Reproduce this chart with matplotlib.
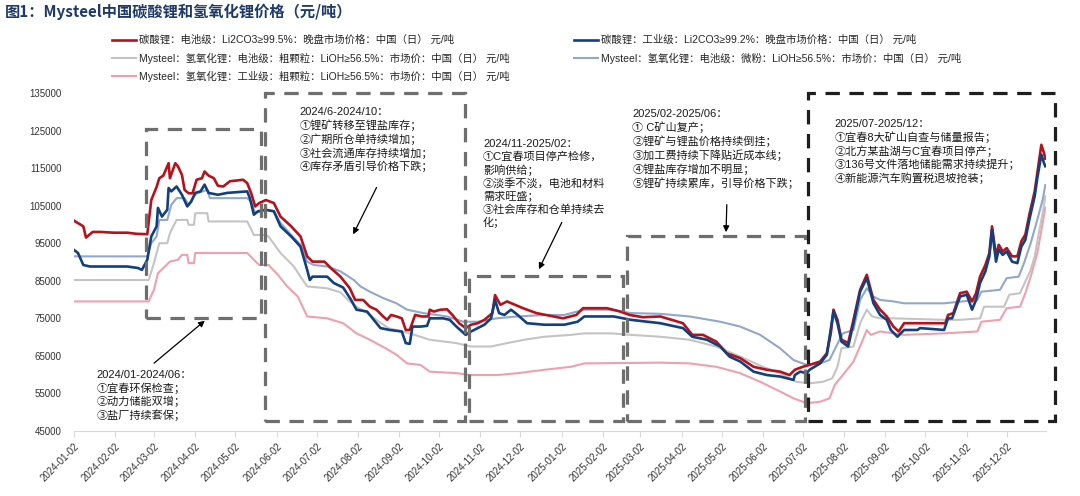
import numpy as np
import pandas as pd
import matplotlib
matplotlib.use('Agg')
import matplotlib.pyplot as plt
import matplotlib.dates as mdates
from matplotlib.lines import Line2D
from matplotlib.patches import Rectangle

plt.rcParams['font.family'] = ['Liberation Sans', 'Noto Sans CJK SC', 'DejaVu Sans']

START = pd.Timestamp('2024-01-02')

# days since 2024-01-02 / price (yuan per tonne)
lc_bat_days = [0, 7, 9, 14, 20, 30, 40, 47, 55, 58, 62, 64, 67, 71, 72, 76, 78, 81, 83, 86, 89, 92, 96, 98,
               101, 105, 108, 112, 117, 127, 130, 133, 136, 139, 144, 150, 155, 163, 170, 175, 179, 188,
               193, 200, 207, 211, 217, 222, 227, 232, 235, 238, 242, 246, 249, 252, 256, 261, 266, 267,
               270, 275, 280, 284, 289, 294, 298, 303, 308, 314, 316, 318, 320, 325, 331, 337, 347, 357,
               367, 377, 382, 400, 410, 417, 427, 440, 457, 464, 472, 482, 490, 500, 510, 520, 530, 537,
               541, 547, 552, 560, 565, 568, 570, 573, 576, 579, 581, 585, 590, 595, 600, 605, 610, 615,
               619, 623, 635, 654, 656, 660, 665, 670, 674, 677, 680, 684, 687, 689, 692, 694, 697, 700,
               704, 708, 711, 714, 717, 721, 723, 726, 728, 729]
lc_bat_vals = [101000, 99500, 96500, 98000, 98000, 97800, 97800, 97500, 97400, 106500, 110000, 112300,
               113000, 116300, 112300, 116300, 115500, 113200, 109200, 108300, 108300, 111900, 112300,
               114100, 113000, 112300, 110300, 110100, 111500, 111900, 111000, 108300, 104800, 105700,
               106500, 105700, 102100, 99500, 96800, 91500, 90100, 90100, 88300, 86100, 83000, 79900,
               79900, 78100, 77300, 75500, 74600, 75900, 75500, 75000, 71900, 71900, 75900, 75500, 75500,
               77300, 76800, 77300, 77400, 75900, 73700, 72400, 73300, 73700, 74600, 76400, 81200, 79900,
               78600, 79500, 78600, 77700, 76400, 75700, 75000, 75900, 77700, 77700, 76800, 75900, 75300,
               75500, 73700, 70600, 70600, 68800, 65700, 64400, 62100, 61300, 60800, 59900, 61300, 62100,
               62600, 63500, 65700, 71000, 77300, 74600, 69300, 68800, 68400, 74600, 82600, 86600, 79900,
               77300, 75500, 72800, 71500, 73700, 73700, 73700, 75900, 76400, 81700, 82100, 79500, 81700,
               86100, 89200, 92400, 99500, 91500, 94600, 92800, 93700, 91500, 91500, 95500, 97300, 102600,
               108800, 113700, 121200, 119000, 117500]

lc_ind_days = [0, 3, 7, 12, 22, 40, 48, 51, 55, 58, 62, 63, 66, 70, 71, 73, 77, 81, 85, 88, 91, 95, 98,
               101, 108, 115, 130, 132, 135, 138, 144, 150, 155, 163, 170, 175, 177, 179, 190, 195, 202,
               208, 212, 220, 225, 230, 237, 246, 249, 252, 254, 260, 265, 267, 277, 282, 287, 294, 298,
               303, 308, 313, 316, 319, 323, 328, 333, 340, 353, 368, 378, 383, 405, 418, 440, 457, 464,
               475, 485, 492, 500, 510, 520, 530, 540, 541, 545, 550, 552, 560, 565, 570, 573, 576, 581,
               585, 590, 595, 600, 605, 610, 613, 618, 623, 633, 635, 653, 656, 659, 665, 670, 674, 677,
               680, 684, 687, 689, 692, 694, 697, 700, 704, 708, 711, 714, 717, 721, 723, 726, 728, 729]
lc_ind_vals = [93200, 92400, 89200, 88800, 88800, 88800, 88400, 87900, 90600, 96800, 99500, 104400,
               102100, 103900, 109700, 108800, 110100, 107900, 104800, 106100, 108400, 108800, 110600,
               108400, 107900, 108400, 108800, 107000, 102600, 103500, 103900, 103500, 99500, 96800,
               94100, 87900, 85200, 86100, 86100, 84400, 83200, 79900, 77300, 76800, 74600, 72400, 71900,
               71500, 68400, 68200, 72800, 72800, 73000, 75000, 75000, 74600, 72800, 70600, 71500, 72400,
               73300, 75000, 79900, 76400, 75900, 77300, 75900, 73700, 73300, 73300, 74100, 75500, 75500,
               74600, 73700, 72400, 70100, 69300, 67500, 64800, 63500, 60800, 59900, 59500, 58600, 59900,
               60800, 60400, 61300, 63000, 65300, 76800, 73700, 68800, 67500, 73700, 82100, 85700, 79000,
               75900, 74600, 71900, 70100, 71900, 71900, 72400, 71900, 75000, 75000, 80800, 81300, 77300,
               79900, 84400, 87500, 91500, 98600, 90100, 93300, 91900, 92800, 90100, 89700, 94100, 95900,
               101300, 107500, 112400, 118600, 116300, 115500]

lioh_bat_days = [0, 56, 60, 64, 70, 72, 77, 85, 86, 90, 91, 100, 101, 130, 135, 143, 146, 155, 165, 170,
                 175, 190, 200, 207, 212, 220, 227, 236, 252, 267, 287, 298, 313, 325, 338, 353, 373, 383,
                 403, 418, 440, 462, 482, 500, 517, 530, 542, 552, 562, 569, 573, 576, 585, 590, 595, 599,
                 605, 615, 653, 665, 680, 683, 698, 702, 710, 714, 718, 721, 724, 727, 729]
lioh_bat_vals = [85200, 85200, 89700, 95000, 95000, 97700, 101200, 101200, 99900, 99900, 103000, 103000,
                 100800, 100800, 97200, 97200, 96800, 92400, 88800, 86100, 83500, 83000, 81900, 79500,
                 78100, 76400, 74600, 72400, 71000, 69300, 68400, 67500, 67500, 68400, 69300, 70100, 70600,
                 71000, 71000, 70600, 70100, 69300, 67500, 64800, 62100, 60400, 58100, 57700, 58100, 59000,
                 62100, 67000, 67500, 73700, 77300, 75500, 75000, 75000, 74600, 74600, 75000, 78100, 78100,
                 81300, 81700, 84800, 87900, 91500, 97500, 103000, 107500]

lioh_fine_days = [0, 55, 58, 62, 64, 70, 73, 77, 83, 86, 89, 92, 100, 102, 130, 133, 136, 143, 150, 155,
                  163, 170, 175, 180, 190, 200, 210, 215, 222, 232, 242, 250, 262, 280, 292, 303, 317, 333,
                  353, 368, 383, 403, 418, 440, 462, 485, 500, 515, 530, 540, 550, 560, 567, 572, 577, 585,
                  590, 595, 600, 605, 615, 623, 653, 678, 681, 695, 700, 709, 713, 718, 723, 727, 729]
lioh_fine_vals = [91500, 91500, 95000, 96800, 101200, 101200, 105200, 107000, 107000, 105200, 107000,
                  108300, 109200, 107000, 107000, 106100, 103000, 103900, 103500, 100400, 97200, 94600,
                  90100, 89200, 88800, 87500, 85200, 83500, 82100, 80400, 79000, 77300, 76400, 75500, 74100,
                  74100, 75000, 75500, 75900, 75900, 77300, 77300, 76400, 76200, 75500, 74100, 72800, 70600,
                  67000, 63900, 62600, 63000, 63900, 67500, 71000, 71900, 79900, 83000, 80800, 79900, 79500,
                  79000, 79000, 79900, 82100, 82600, 85700, 86100, 89700, 95000, 101300, 106600, 110500]

lioh_ind_days = [0, 56, 60, 63, 72, 78, 81, 85, 86, 90, 91, 130, 135, 139, 146, 153, 160, 168, 175, 190,
                 202, 212, 222, 234, 242, 250, 260, 267, 287, 298, 318, 333, 353, 373, 383, 440, 462, 482,
                 500, 515, 530, 540, 550, 560, 567, 571, 577, 585, 591, 595, 598, 605, 623, 653, 678, 681,
                 695, 700, 710, 714, 718, 723, 727, 729]
lioh_ind_vals = [79500, 79500, 82600, 87000, 90100, 90600, 91900, 91900, 89700, 89700, 92400, 92400,
                 90600, 89200, 89200, 86600, 83500, 80800, 75500, 75000, 73700, 71000, 69300, 67000, 65300,
                 63000, 62600, 60800, 60400, 59900, 59900, 60400, 61300, 62100, 63000, 63200, 63000, 62100,
                 60400, 58100, 55500, 53700, 52400, 52800, 53700, 57300, 59900, 63500, 68400, 71900, 70600,
                 71500, 70600, 71000, 71500, 74100, 74600, 77700, 78100, 81700, 86100, 92400, 100400, 104500]

labels = [
    '碳酸锂：电池级：Li2CO3≥99.5%：晚盘市场价格：中国（日） 元/吨',
    'Mysteel：氢氧化锂：电池级：粗颗粒：LiOH≥56.5%：市场价：中国（日） 元/吨',
    'Mysteel：氢氧化锂：工业级：粗颗粒：LiOH≥56.5%：市场价：中国（日） 元/吨',
    '碳酸锂：工业级：Li2CO3≥99.2%：晚盘市场价格：中国（日） 元/吨',
    'Mysteel：氢氧化锂：电池级：微粉：LiOH≥56.5%：市场价：中国（日） 元/吨',
]

notes = [
    '2024/01-2024/06：\n①宜春环保检查；\n②动力储能双增；\n③盐厂持续套保；',
    '2024/6-2024/10：\n①锂矿转移至锂盐库存；\n②广期所仓单持续增加；\n③社会流通库存持续增加；\n④库存矛盾引导价格下跌；',
    '2024/11-2025/02：\n①C宜春项目停产检修，\n影响供给；\n②淡季不淡，电池和材料\n需求旺盛；\n③社会库存和仓单持续去\n化；',
    '2025/02-2025/06：\n① C矿山复产；\n②锂矿与锂盐价格持续倒挂；\n③加工费持续下降贴近成本线；\n④锂盐库存增加不明显；\n⑤锂矿持续累库，引导价格下跌；',
    '2025/07-2025/12：\n①宜春8大矿山自查与储量报告；\n②北方某盐湖与C宜春项目停产；\n③136号文件落地储能需求持续提升；\n④新能源汽车购置税退坡抢装；',
]

RED = '#b5121b'
NAVY = '#123f7e'
GRAY = '#c4c4c4'
LBLUE = '#91a7cc'
PINK = '#f0a0ac'


def to_dates(days):
    return START + pd.to_timedelta(np.array(days, dtype=float), unit='D')


def dnum(day):
    return mdates.date2num(START + pd.Timedelta(days=day))


fig = plt.figure(figsize=(10.8, 4.96), dpi=100)
ax = fig.add_axes([74 / 1080, 65 / 496, 972 / 1080, 338 / 496])

# draw order: light ones under the dark ones
ax.plot(to_dates(lioh_ind_days), lioh_ind_vals, color=PINK, lw=1.5)
ax.plot(to_dates(lioh_bat_days), lioh_bat_vals, color=GRAY, lw=1.5)
ax.plot(to_dates(lioh_fine_days), lioh_fine_vals, color=LBLUE, lw=1.5)
ax.plot(to_dates(lc_bat_days), lc_bat_vals, color=RED, lw=1.9)
ax.plot(to_dates(lc_ind_days), lc_ind_vals, color=NAVY, lw=1.9)

ax.set_ylim(45000, 135000)
ax.set_yticks(np.arange(45000, 135001, 10000))
ax.set_xlim(dnum(0), dnum(729.5))
ticks = pd.date_range('2024-01-01', '2025-12-01', freq='MS') + pd.Timedelta(days=1)
ax.set_xticks(ticks)
ax.xaxis.set_major_formatter(mdates.DateFormatter('%Y-%m-%d'))
for s in ['top', 'right', 'left']:
    ax.spines[s].set_visible(False)
ax.spines['bottom'].set_color('#d9d9d9')
ax.tick_params(axis='x', colors='#d9d9d9', length=4, labelcolor='#333333', labelsize=7)
ax.tick_params(axis='y', length=0, labelcolor='#333333', labelsize=7, pad=9)
plt.setp(ax.get_xticklabels(), rotation=45, ha='right', rotation_mode='anchor')

# dashed period boxes
boxes = [(54, 140, 75100, 125500, '#6e6e6e'),
         (143, 293.5, 47700, 135000, '#6e6e6e'),
         (296.5, 412, 47700, 86300, '#6e6e6e'),
         (415, 548.6, 47700, 97000, '#6e6e6e'),
         (551, 736, 47700, 135100, '#1e1e1e')]
for d0, d1, v0, v1, c in boxes:
    ax.add_patch(Rectangle((dnum(d0), v0), dnum(d1) - dnum(d0), v1 - v0, fill=False,
                           ec=c, lw=2.3, ls=(0, (4.5, 3)), clip_on=False, zorder=5))

# notes and arrows
note_pos = [(17, 61300), (169, 131300), (307, 122800), (419, 130800), (571, 128200)]
for (d, v), s in zip(note_pos, notes):
    ax.text(dnum(d), v, s, fontsize=8, va='top', ha='left', color='#1a1a1a', linespacing=1.25)

arrows = [((58.5, 62600), (99.8, 74850)),
          ((228, 110500), (208.6, 96700)),
          ((367, 101200), (348, 87400)),
          ((490, 106000), (489.3, 97200))]
for (td, tv), (hd, hv) in arrows:
    ax.annotate('', xy=(dnum(hd), hv), xytext=(dnum(td), tv),
                arrowprops=dict(arrowstyle='-|>', color='black', lw=0.9, mutation_scale=9))

# title
fig.text(5 / 1080, 1 - 12 / 496, '图1：Mysteel中国碳酸锂和氢氧化锂价格（元/吨）', fontsize=11,
         fontweight='bold', color='#1f3a68', va='center', ha='left',
         family=['Noto Sans CJK SC', 'DejaVu Sans'])

# legend, drawn by hand in two columns
leg = [(112, 40, RED, 1.9, labels[0]), (112, 58, GRAY, 1.5, labels[1]), (112, 76, PINK, 1.5, labels[2]),
       (574, 40, NAVY, 1.9, labels[3]), (574, 58, LBLUE, 1.5, labels[4])]
for x, y, c, lw, s in leg:
    fig.add_artist(Line2D([x / 1080, (x + 24) / 1080], [1 - y / 496, 1 - y / 496], color=c, lw=lw))
    fig.text((x + 27) / 1080, 1 - y / 496, s, fontsize=7.5, va='center', ha='left', color='#262626')

fig.savefig('out.png', dpi=100)
